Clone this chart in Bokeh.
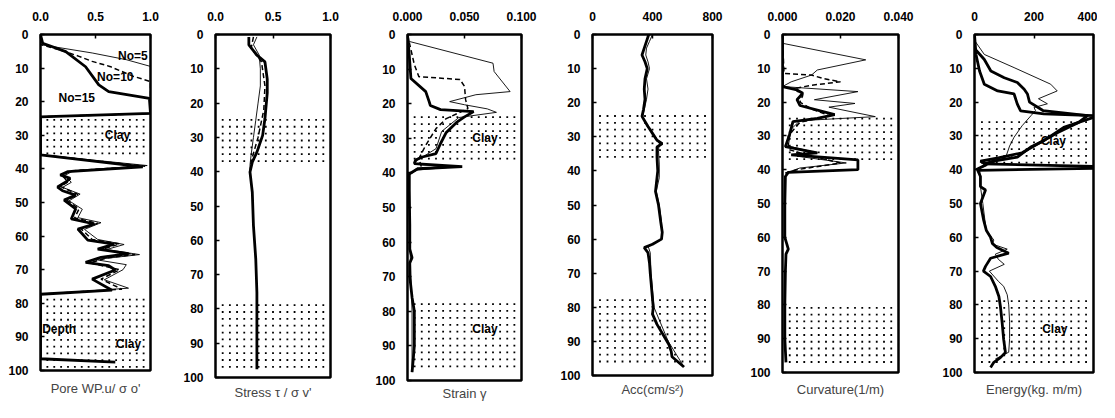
import numpy as np
from bokeh.plotting import figure
from bokeh.layouts import row
from bokeh.models import Range1d, FixedTicker, PrintfTickFormatter, Title
from bokeh.core.properties import value
from bokeh.embed import file_html
from bokeh.resources import INLINE

# ---------------- data ----------------
depth_ticks = [0, 10, 20, 30, 40, 50, 60, 70, 80, 90, 100]

# Panel 1 : pore water pressure ratio
pwp_ticks = [0.0, 0.5, 1.0]
pwp_n15_depth = [0, 2.6, 5.1, 9.6, 15, 17, 19, 23.5, 24.5, 35.8, 39.4, 40.8, 41.8, 42.8, 43.9, 45.4, 46.5, 47.8, 49.3, 51.9,
                 54.9, 56.4, 57.9, 61.2, 62.4, 63.9, 65.2, 66.3, 67.8, 68.8, 70.1, 72.8, 76.1, 77.3, 96.5, 97.5]
pwp_n15 = [0, 0.02, 0.23, 0.41, 0.53, 0.62, 0.99, 1.0, 0, 0, 0.93, 0.25, 0.18, 0.27, 0.23, 0.155, 0.2, 0.32, 0.215, 0.32,
           0.28, 0.49, 0.34, 0.43, 0.67, 0.52, 0.8, 0.55, 0.41, 0.62, 0.68, 0.47, 0.65, 0, 0, 0.68]
pwp_n10_depth = [0, 3, 4.5, 6.5, 8, 9.5, 12.4, 14, 23.5, 24.5, 35.8, 39.2, 40.6, 42, 43.9, 45.2, 47.6, 49.3, 51.9, 54.6,
                 56.2, 57.9, 61, 62.3, 64, 65.5, 66.5, 68, 70, 72.8, 75.8, 77.3]
pwp_n10 = [0, 0, 0.17, 0.35, 0.47, 0.63, 0.84, 1.0, 1.0, 0, 0, 0.95, 0.27, 0.2, 0.25, 0.18, 0.34, 0.24, 0.35, 0.31,
           0.52, 0.37, 0.47, 0.72, 0.56, 0.86, 0.6, 0.45, 0.72, 0.55, 0.74, 0]
pwp_n5_depth = [0, 3, 5.5, 7.5, 9.5, 23.5, 24.5, 35.8, 39, 40.5, 42, 44, 45.5, 47.5, 49.5, 52, 54.5, 56, 58, 61,
                62.5, 64, 65.5, 67, 68.5, 70, 73, 75.5, 77.3]
pwp_n5 = [0, 0, 0.47, 0.78, 1.0, 1.0, 0, 0, 0.97, 0.3, 0.22, 0.28, 0.2, 0.36, 0.26, 0.38, 0.34, 0.55, 0.4, 0.52,
          0.76, 0.6, 0.9, 0.5, 0.78, 0.75, 0.58, 0.8, 0]
pwp_clay = [(24.5, 35.5), (78, 99)]

# Panel 2 : stress ratio
stress_ticks = [0.0, 0.5, 1.0]
stress_thick_depth = [0.7, 3, 6, 8, 13, 17, 24.5, 29.4, 34.3, 37.2, 40.1, 46, 55.7, 65.4, 75.2, 84.9, 97.6]
stress_thick = [0.29, 0.29, 0.36, 0.43, 0.45, 0.45, 0.43, 0.41, 0.36, 0.32, 0.3, 0.32, 0.33, 0.35, 0.36, 0.36, 0.36]
stress_thin_depth = [0.7, 3, 6, 10, 15, 20, 25, 30, 35, 38, 40]
stress_thin = [0.36, 0.33, 0.38, 0.39, 0.39, 0.37, 0.35, 0.33, 0.31, 0.3, 0.3]
stress_dash_depth = [0.7, 4, 8, 15, 22, 30, 37, 40]
stress_dash = [0.33, 0.31, 0.4, 0.43, 0.42, 0.37, 0.31, 0.3]
stress_clay = [(24, 37), (78, 97)]

# Panel 3 : strain
strain_ticks = [0.0, 0.05, 0.1]
strain_thick_depth = [0, 5.8, 12.7, 16.5, 19.4, 20.5, 21.7, 22.3, 23.8, 25.4, 28.3, 31.5, 34.4, 35.4, 36.3, 37.3, 38.2,
                      38.8, 40.3, 45, 55, 62, 64.5, 66, 70, 76, 80, 86, 90, 94, 97.6]
strain_thick = [0, 0.0015, 0.003, 0.016, 0.019, 0.02, 0.029, 0.058, 0.05, 0.043, 0.034, 0.029, 0.025, 0.013, 0.007, 0.006,
                0.048, 0.009, 0.0015, 0.0015, 0.002, 0.002, 0.004, 0.002, 0.002, 0.004, 0.006, 0.006, 0.006, 0.005, 0.004]
strain_thin_depth = [0, 2, 8.3, 10.7, 16.5, 17.4, 19.4, 20.3, 21.5, 22.5, 24, 28, 33, 36.5, 37.5, 38.3, 39.2, 40.5,
                     50, 60, 80, 97.6]
strain_thin = [0, 0.0015, 0.075, 0.076, 0.09, 0.06, 0.037, 0.05, 0.07, 0.078, 0.045, 0.03, 0.025, 0.008, 0.006, 0.04,
               0.008, 0.002, 0.002, 0.002, 0.004, 0.004]
strain_dash_depth = [0, 8.7, 12.2, 13, 15, 18.9, 21.4, 24.3, 27.2, 32, 35.9, 38, 40]
strain_dash = [0, 0.006, 0.01, 0.046, 0.05, 0.051, 0.053, 0.034, 0.025, 0.016, 0.01, 0.012, 0.003]
strain_clay = [(23, 36), (77, 97)]

# Panel 4 : acceleration
acc_ticks = [0, 400, 800]
acc_thick_depth = [0, 2, 4, 6, 8, 10, 13, 16, 19, 22, 24, 25.5, 27, 29, 31, 32, 33, 36, 40, 44, 46, 50, 55, 58, 60,
                   61.5, 62.5, 64, 67, 70, 75, 80, 82, 85, 88, 91, 93, 94.5, 97.5]
acc_thick = [375, 360, 345, 330, 350, 365, 350, 345, 350, 340, 330, 350, 370, 400, 430, 465, 430, 430, 435, 425, 420,
             440, 455, 465, 460, 400, 345, 370, 380, 385, 395, 405, 400, 430, 470, 510, 525, 530, 610]
acc_thin_depth = [0, 2, 4, 6, 8, 10, 13, 16, 19, 22, 24, 27, 30, 32, 34, 38, 42, 46, 50, 55, 60, 62, 64, 70, 80, 90, 97.5]
acc_thin = [400, 380, 360, 355, 370, 380, 360, 370, 360, 345, 335, 365, 420, 445, 440, 445, 445, 425, 445, 460, 465,
            370, 385, 390, 410, 505, 610]
acc_clay = [(23, 36), (77, 97)]

# Panel 5 : curvature
curv_ticks = [0.0, 0.02, 0.04]
curv_thick_depth = [0, 15.4, 16.4, 17.4, 19.3, 21, 22.8, 23.7, 24.8, 25.8, 29.7, 33.2, 35, 35.6, 37.1, 40.0, 40.8, 42,
                    50, 60, 62, 63.5, 65, 70, 80, 90, 97]
curv_thick = [0, 0, 0.005, 0.007, 0.005, 0.006, 0.014, 0.018, 0.012, 0.0036, 0.0024, 0.001, 0.012, 0.003, 0.026, 0.026,
              0.002, 0.001, 0.0008, 0.0008, 0.0015, 0.002, 0.0012, 0.001, 0.0008, 0.0008, 0.0012]
curv_thin_depth = [0, 2.6, 7.5, 10.5, 12, 14, 15.4, 16.9, 19.3, 20.4, 21.5, 24.3, 25.5, 28, 33, 35, 36, 38, 39.5, 41]
curv_thin = [0, 0, 0.0287, 0.012, 0.01, 0.003, 0.0, 0.026, 0.011, 0.025, 0.016, 0.032, 0.006, 0.003, 0.002, 0.012,
             0.005, 0.022, 0.006, 0.001]
curv_dash_depth = [0, 11.5, 12, 13, 14, 15, 16, 18, 20, 22, 24, 26, 30, 34, 36, 38, 40, 41]
curv_dash = [0, 0.0005, 0.01, 0.014, 0.02, 0.01, 0.004, 0.007, 0.006, 0.01, 0.016, 0.006, 0.002, 0.002, 0.01, 0.02,
             0.005, 0.001]
curv_clay = [(24, 37), (80, 97)]

# Panel 6 : energy
energy_ticks = [0, 200, 400]
energy_a_depth = [0, 5.9, 10.8, 14.7, 16.7, 17.6, 20.6, 22.6, 23.5, 24, 24.5, 27.5, 31.4, 33.3, 36.3, 37.5, 38.3, 39,
                  39.6, 40.2, 42, 45, 46, 50, 55, 58, 60, 61.8, 63, 64.7, 66.2, 68.6, 70, 71.6, 74.5, 77.5, 80.4, 85.3,
                  90.2, 94.1, 95.6, 97, 98.5]
energy_a = [0, 5, 17, 33, 78, 133, 144, 155, 233, 400, 400, 300, 233, 189, 144, 60, 33, 400, 400, 11, 20, 20, 37, 20,
            31, 40, 54, 60, 75, 115, 54, 37, 30, 54, 70, 82, 87, 93, 98, 104, 87, 65, 54]
energy_b_depth = [0, 4.1, 7.4, 10.8, 12.8, 14.2, 16.2, 17.6, 20, 22.5, 24, 26, 29, 31, 33, 35, 36.5, 37.5, 38.5, 40]
energy_b = [0, 0, 33, 55, 100, 144, 167, 178, 185, 230, 380, 350, 280, 240, 200, 160, 80, 20, 40, 5]
energy_thin_depth = [0, 2, 5.9, 9.8, 14.7, 16.7, 19, 20.5, 21.6, 22.5, 24, 27, 30.4, 33, 36.3, 38, 39.5, 40.5, 45, 50,
                     55, 58, 60.8, 62, 63.5, 65, 66.5, 68, 70, 73, 74.5, 77, 80, 85, 90, 94, 96]
energy_thin = [0, 2, 33, 133, 256, 278, 215, 245, 200, 205, 190, 160, 133, 118, 105, 60, 20, 18, 20, 28,
               35, 40, 65, 60, 110, 70, 80, 100, 50, 80, 98, 110, 115, 118, 118, 115, 70]
energy_clay = [(25, 38), (78, 98)]

# ---------------- styling ----------------
FONT = "Liberation Sans"
FIG_H = 404
TOP = 34
STYLES = {
    "thick": dict(line_width=2.8),
    "dash": dict(line_width=1.5, line_dash="5 3"),
    "thin": dict(line_width=0.9),
}


def make_panel(xmax, fmt, ticks, title, left, fw, right, fh, standoff, series, clay, labels):
    p = figure(frame_width=fw, frame_height=fh,
               x_range=Range1d(0, xmax), y_range=Range1d(100, 0),
               x_axis_location="above", output_backend="svg", toolbar_location=None,
               min_border_left=left, min_border_right=right, min_border_top=TOP,
               min_border_bottom=FIG_H - TOP - fh)
    p.background_fill_color = "white"
    p.border_fill_color = "white"
    p.outline_line_color = "black"
    p.outline_line_width = 2.5
    p.grid.visible = False
    for ax in (p.xaxis[0], p.yaxis[0]):
        ax.axis_line_color = None
        ax.major_tick_in = 4
        ax.major_tick_out = 0
        ax.minor_tick_line_color = None
        ax.major_tick_line_width = 1.5
        ax.major_label_text_font = FONT
        ax.major_label_text_font_style = "bold"
        ax.major_label_text_font_size = "12px"
        ax.major_label_text_color = "black"
    p.xaxis[0].ticker = FixedTicker(ticks=ticks)
    p.xaxis[0].formatter = PrintfTickFormatter(format=fmt)
    p.xaxis[0].major_label_standoff = 14
    p.yaxis[0].ticker = FixedTicker(ticks=depth_ticks)
    p.yaxis[0].formatter = PrintfTickFormatter(format="%d")
    p.yaxis[0].major_label_standoff = 12

    # dotted "clay" shading, drawn as rows of small dots (decoration only)
    cols = np.linspace(0, xmax, 17)[1:-1]
    for (d0, d1) in clay:
        rows = np.arange(d0 + 0.9, d1, 2.0)
        X, Y = np.meshgrid(cols, rows)
        p.scatter(X.ravel(), Y.ravel(), marker="square", size=1.8, fill_color="black", line_color=None)
    for (xs, ys, st) in series:
        p.line(xs, ys, line_color="black", **STYLES[st])
    for (x, y, t) in labels:
        p.text(x=[x], y=[y], text=[t], text_font=value(FONT), text_font_size="12px",
               text_font_style="bold", text_align="center", text_baseline="middle", text_color="black")

    p.add_layout(Title(text=title, align="center", text_font=FONT, text_font_size="13px",
                       text_font_style="normal", standoff=standoff), "below")
    return p


p1 = make_panel(1.0, "%.1f", pwp_ticks, "Pore WP.u/ σ o'", 40, 110, 27, 336, 17,
                [(pwp_n5, pwp_n5_depth, "thin"), (pwp_n10, pwp_n10_depth, "dash"), (pwp_n15, pwp_n15_depth, "thick")],
                pwp_clay,
                [(0.84, 6.3, "No=5"), (0.68, 12.5, "No=10"), (0.33, 19, "No=15"),
                 (0.7, 30, "Clay"), (0.8, 92, "Clay"), (0.17, 87.5, "Depth")])
p2 = make_panel(1.0, "%.1f", stress_ticks, "Stress τ / σ v'", 38, 115, 32, 343, 10,
                [(stress_thin, stress_thin_depth, "thin"), (stress_dash, stress_dash_depth, "dash"),
                 (stress_thick, stress_thick_depth, "thick")],
                stress_clay, [])
p3 = make_panel(0.1, "%.3f", strain_ticks, "Strain γ", 45, 114, 26, 346, 7,
                [(strain_thin, strain_thin_depth, "thin"), (strain_dash, strain_dash_depth, "dash"),
                 (strain_thick, strain_thick_depth, "thick")],
                strain_clay, [(0.068, 30, "Clay"), (0.068, 85, "Clay")])
p4 = make_panel(800, "%d", acc_ticks, "Acc(cm/s²)", 45, 120, 20, 341, 9,
                [(acc_thin, acc_thin_depth, "thin"), (acc_thick, acc_thick_depth, "thick")],
                acc_clay, [])
p5 = make_panel(0.04, "%.3f", curv_ticks, "Curvature(1/m)", 50, 116, 19, 338, 14,
                [(curv_thin, curv_thin_depth, "thin"), (curv_dash, curv_dash_depth, "dash"),
                 (curv_thick, curv_thick_depth, "thick")],
                curv_clay, [])
p6 = make_panel(400, "%d", energy_ticks, "Energy(kg. m/m)", 57, 119, 4, 338, 14,
                [(energy_thin, energy_thin_depth, "thin"), (energy_b, energy_b_depth, "thick"),
                 (energy_a, energy_a_depth, "thick")],
                energy_clay, [(265, 31.5, "Clay"), (270, 87, "Clay")])

layout = row(p1, p2, p3, p4, p5, p6)
open("out.html", "w").write(file_html(layout, INLINE))
